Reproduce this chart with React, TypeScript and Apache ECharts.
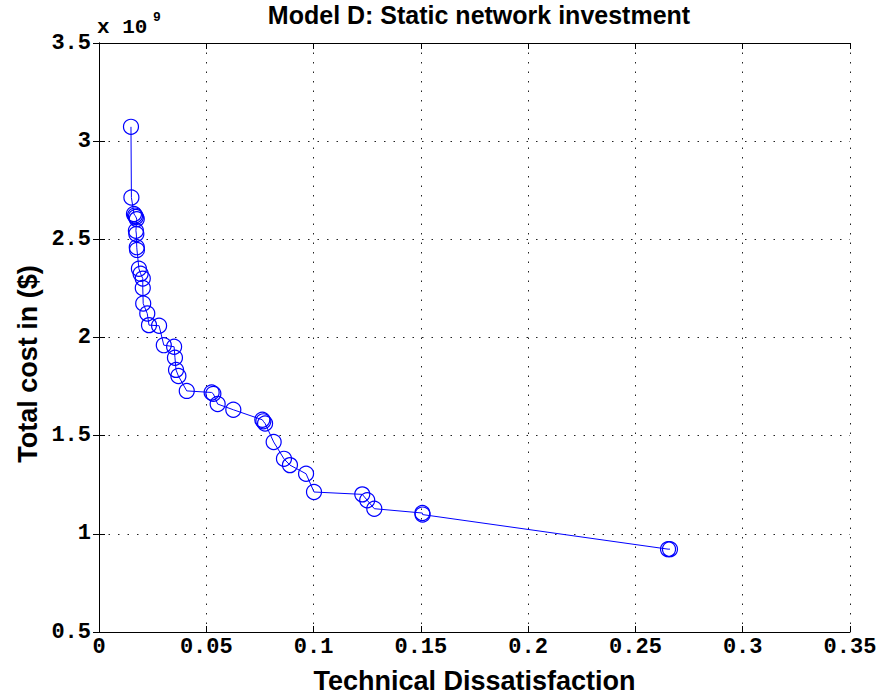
import React, { useEffect, useRef } from "react";
import * as echarts from "echarts";

const techDissatisfaction = [
  0.0149, 0.0151, 0.0163, 0.0168, 0.0172, 0.0176, 0.0172, 0.0174, 0.0176, 0.0177,
  0.0186, 0.0194, 0.0204, 0.0204, 0.0206, 0.0225, 0.0233, 0.028, 0.0302, 0.035,
  0.0354, 0.0359, 0.037, 0.0409, 0.0525, 0.0533, 0.0553, 0.0626, 0.0761, 0.0766,
  0.0774, 0.0814, 0.0862, 0.089, 0.0965, 0.1002, 0.1227, 0.125, 0.1283, 0.1507,
  0.1508, 0.2652, 0.2661,
];
const totalCostE9 = [
  3.073, 2.713, 2.629, 2.621, 2.614, 2.603, 2.544, 2.527, 2.46, 2.446,
  2.35, 2.325, 2.3, 2.252, 2.173, 2.122, 2.063, 2.06, 1.961, 1.953,
  1.897, 1.835, 1.804, 1.728, 1.72, 1.713, 1.661, 1.632, 1.581, 1.573,
  1.562, 1.468, 1.382, 1.35, 1.306, 1.213, 1.201, 1.171, 1.128, 1.106,
  1.098, 0.922, 0.922,
];

const titleText = "Model D: Static network investment";
const xName = "Technical Dissatisfaction";
const yName = "Total cost in ($)";

const MONO = "'Liberation Mono', 'DejaVu Sans Mono', monospace";
const SANS = "'Liberation Sans', Arial, Helvetica, sans-serif";

export default function App() {
  const ref = useRef<HTMLDivElement>(null);
  useEffect(() => {
    if (!ref.current) return;
    const chart = echarts.init(ref.current, undefined, { renderer: "svg" });
    const data = techDissatisfaction.map((x, i) => [x, totalCostE9[i]]);
    const tickStyle = { show: true, inside: true, length: 6, lineStyle: { color: "#000", width: 1 } };
    const axisLine = { show: true, lineStyle: { color: "#000", width: 1 } };
    const splitLine = { show: true, lineStyle: { color: "#222", width: 1, type: [1.5, 8] as any } };
    chart.setOption({
      animation: false,
      backgroundColor: "#fff",
      title: {
        text: titleText,
        left: 474,
        top: -3,
        textAlign: "center",
        textStyle: { fontFamily: SANS, fontWeight: "bold", fontSize: 25, color: "#000" },
      },
      grid: { left: 99, right: 30, top: 43, bottom: 64, containLabel: false },
      xAxis: [
        {
          type: "value",
          position: "bottom",
          min: 0,
          max: 0.35,
          interval: 0.05,
          axisLine,
          axisTick: tickStyle,
          splitLine,
          axisLabel: { fontFamily: MONO, fontWeight: "bold", fontSize: 22, color: "#000", margin: 4 },
          name: xName,
          nameLocation: "middle",
          nameGap: 35,
          nameTextStyle: { fontFamily: SANS, fontWeight: "bold", fontSize: 27, color: "#000" },
        },
        {
          type: "value",
          position: "top",
          min: 0,
          max: 0.35,
          interval: 0.05,
          axisLine,
          axisTick: tickStyle,
          splitLine: { show: false },
          axisLabel: { show: false },
        },
      ],
      yAxis: [
        {
          type: "value",
          position: "left",
          min: 0.5,
          max: 3.5,
          interval: 0.5,
          axisLine,
          axisTick: tickStyle,
          splitLine,
          axisLabel: { fontFamily: MONO, fontWeight: "bold", fontSize: 22, color: "#000", margin: 8 },
        },
        {
          type: "value",
          position: "right",
          min: 0.5,
          max: 3.5,
          interval: 0.5,
          axisLine,
          axisTick: tickStyle,
          splitLine: { show: false },
          axisLabel: { show: false },
        },
      ],
      graphic: [
        {
          type: "text",
          left: 97,
          top: 17,
          style: { text: "x 10", fontFamily: MONO, fontWeight: "bold", fontSize: 21, fill: "#000" },
        },
        {
          type: "text",
          left: 153,
          top: 11,
          style: { text: "9", fontFamily: MONO, fontWeight: "bold", fontSize: 13, fill: "#000" },
        },
        {
          type: "text",
          x: 28,
          y: 364,
          rotation: Math.PI / 2,
          style: {
            text: yName,
            fontFamily: SANS,
            fontWeight: "bold",
            fontSize: 27,
            fill: "#000",
            align: "center",
            verticalAlign: "middle",
          },
        },
      ],
      series: [
        {
          type: "line",
          xAxisIndex: 0,
          yAxisIndex: 0,
          data,
          symbol: "circle",
          symbolSize: 15,
          showAllSymbol: true,
          lineStyle: { color: "#0000ff", width: 1 },
          itemStyle: { color: "rgba(0,0,0,0)", borderColor: "#0000ff", borderWidth: 1.2 },
        },
      ],
    });
    return () => chart.dispose();
  }, []);
  return <div ref={ref} style={{ width: 880, height: 699, position: "absolute", left: 0, top: 0 }} />;
}
